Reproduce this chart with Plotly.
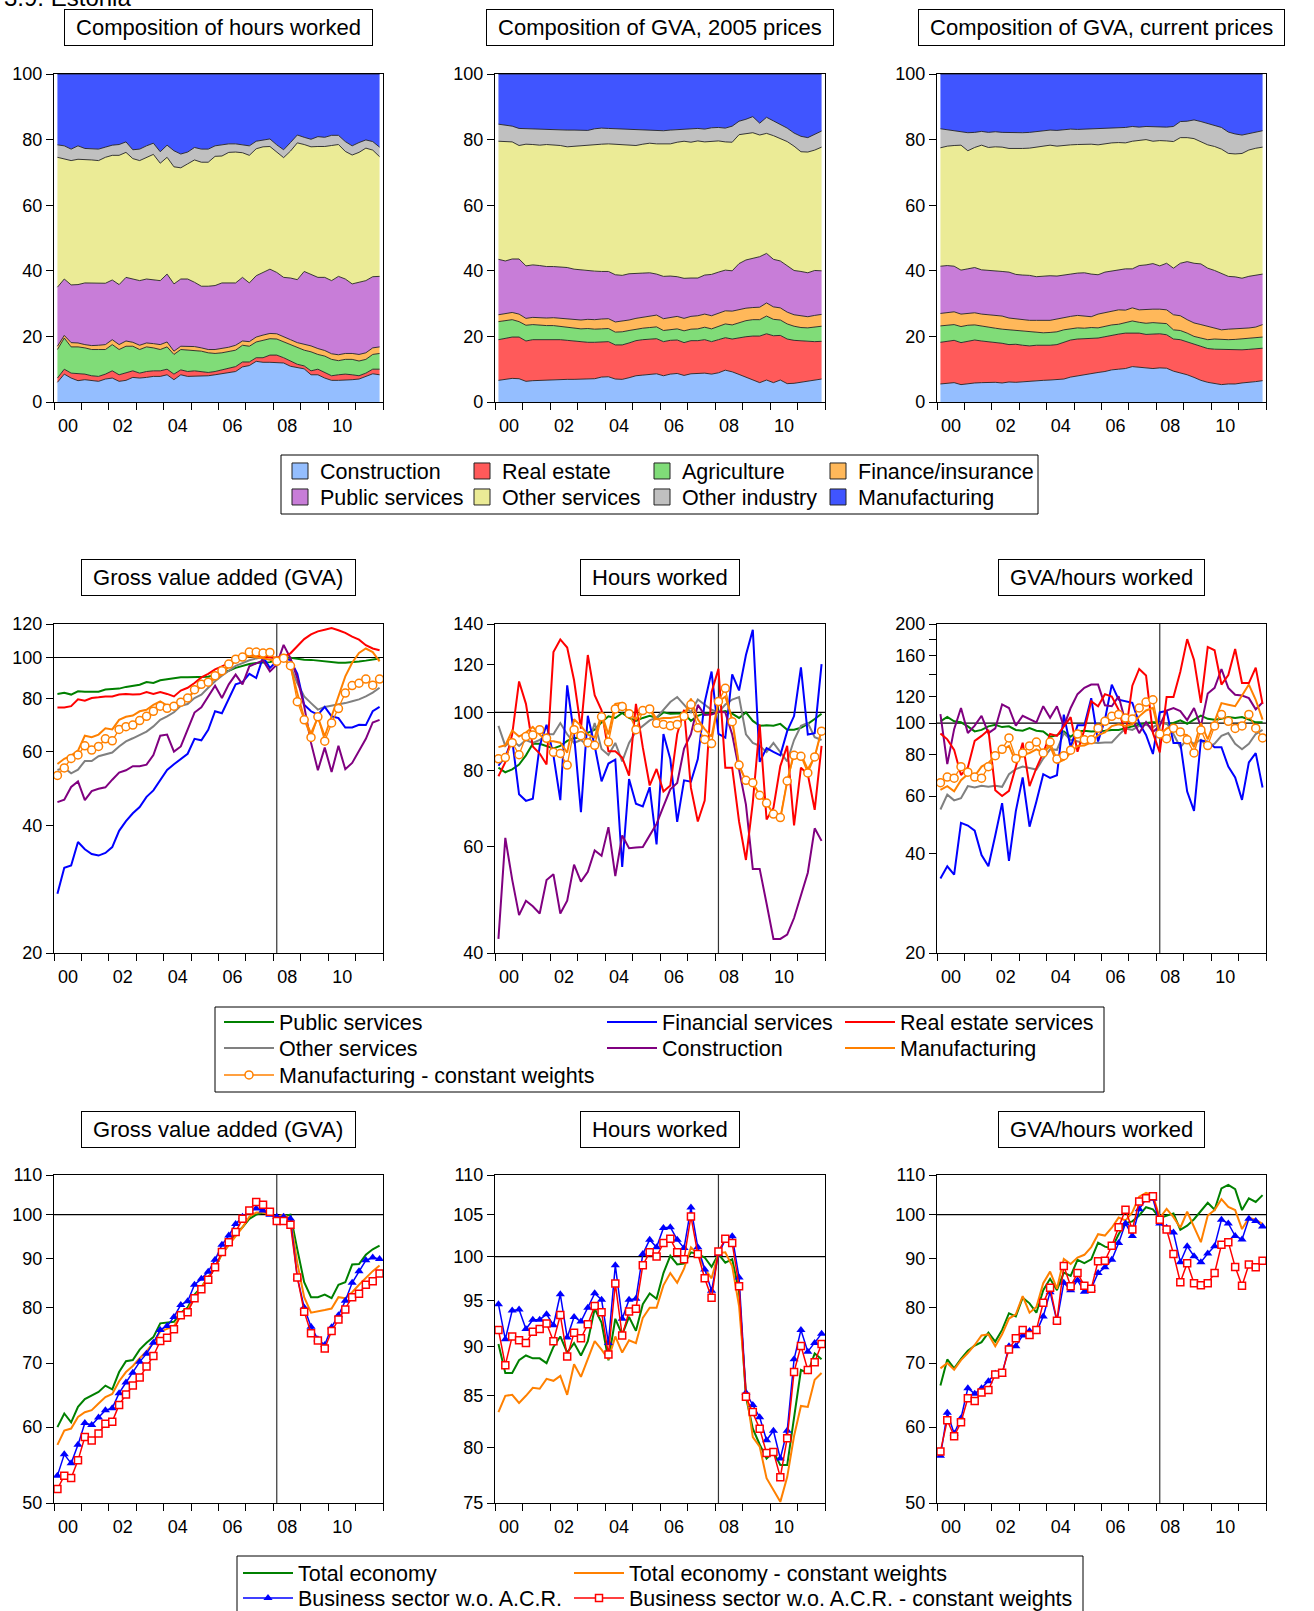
import math
import plotly.graph_objects as go

W, H = 1314, 1611
FONT = "Liberation Sans, Arial, Helvetica, sans-serif"

quarters = [f"{y}Q{q}" for y in range(2000, 2012) for q in range(1, 5)]
xq = [int(s[:4]) + (int(s[-1]) - 0.5) / 4 for s in quarters]

# ---------------- Row 1: composition shares (%) ----------------
sectors = ["Construction", "Real estate", "Agriculture", "Finance/insurance",
           "Public services", "Other services", "Other industry", "Manufacturing"]
sector_colors = ["#94BEFF", "#FF5A5A", "#80DC78", "#FFB85A",
                 "#C87DD8", "#EBEB96", "#C0C0C0", "#4055FF"]

# Composition of hours worked
constr_h = [6.0,8.5,7.3,6.5,6.8,6.6,6.3,7.0,7.3,6.3,6.6,7.5,7.3,7.5,7.8,7.8,8.3,6.8,8.3,7.8,7.8,7.8,8.0,8.3,8.6,9.0,9.3,10.7,11.1,12.4,12.1,12.1,12.1,11.9,10.9,10.4,10.1,8.3,8.3,7.3,6.6,6.6,6.6,6.8,7.0,7.8,8.6,8.3]
realest_h = [1.3,1.5,1.5,2.2,1.7,1.4,1.5,1.5,2.2,2.0,2.2,2.0,1.5,1.8,1.7,1.7,1.7,1.7,1.5,1.5,1.7,1.5,1.0,1.0,1.2,1.3,1.5,1.5,1.1,1.1,1.4,2.2,2.2,1.6,1.6,1.1,0.9,1.2,1.7,1.7,1.4,1.7,1.9,1.5,1.0,1.0,1.4,1.7]
agri_h = [8.7,9.5,8.0,8.1,8.0,8.0,8.2,7.5,8.0,7.7,8.2,7.5,7.2,7.5,7.0,6.5,6.8,6.0,6.2,6.5,6.3,6.2,6.0,5.5,5.2,5.0,5.0,5.1,4.8,4.8,5.3,5.0,4.9,4.8,5.0,5.0,4.8,5.8,4.5,5.0,5.0,4.3,4.5,4.7,4.5,4.2,4.5,4.8]
fin_h = [1.0,0.8,1.3,1.2,1.0,1.2,1.3,1.5,1.5,1.5,1.6,1.2,1.3,1.2,1.3,1.5,1.5,1.0,1.0,1.2,1.1,1.0,1.0,1.2,1.3,1.4,1.5,1.3,1.4,1.5,1.6,1.6,1.6,1.5,1.5,1.6,1.8,1.8,1.8,1.7,1.7,1.8,1.8,1.8,2.0,2.0,2.0,2.0]
pub_h = [18.0,17.2,17.6,17.8,18.8,19.1,19.0,18.7,18.2,18.3,19.4,19.3,19.7,19.5,19.5,19.5,20.7,20.5,20.5,20.5,19.6,18.8,19.3,19.5,20.0,19.6,19.0,19.4,17.9,18.7,19.1,19.6,18.7,18.2,18.8,19.2,22.2,21.7,21.7,22.3,22.3,23.9,22.7,21.2,22.0,22.0,21.7,21.5]
othsvc_h = [39.6,36.6,37.9,38.2,37.7,37.5,37.3,38.4,38.0,39.4,38.1,36.7,36.6,37.1,38.2,35.8,35.6,35.7,33.9,35.1,37.3,37.8,37.8,39.4,38.7,39.8,39.9,38.0,38.9,38.7,38.3,37.4,36.6,36.5,38.7,41.7,38.7,39.0,39.9,39.9,41.2,40.2,38.9,39.3,39.6,40.4,38.6,36.5]
othind_h = [3.8,4.0,3.5,4.1,3.3,3.5,3.5,3.1,3.1,3.3,3.2,2.7,3.5,3.5,3.4,3.5,3.7,4.9,4.2,3.6,3.8,4.0,4.0,3.2,3.4,2.6,2.5,2.3,2.9,2.3,2.1,2.3,2.3,2.4,2.6,2.4,2.2,2.3,3.0,2.8,3.1,2.8,3.0,2.8,3.0,2.5,2.6,2.9]
manuf_h = [21.6,21.9,22.9,21.9,22.7,22.7,22.9,22.3,21.7,21.5,20.7,23.1,22.9,21.9,21.1,23.7,21.7,23.4,24.4,23.8,22.4,22.9,22.9,21.9,21.6,21.3,21.3,21.7,21.9,20.5,20.1,19.8,21.6,23.1,20.9,18.6,19.3,19.9,19.1,19.3,18.7,18.7,20.6,21.9,20.9,20.1,20.6,22.3]

# Composition of GVA, 2005 prices
constr_r = [6.6,6.8,7.2,7.1,6.3,6.5,6.6,6.6,6.9,6.9,6.9,6.9,6.9,6.9,7.1,7.6,7.7,7.0,6.9,7.4,8.0,8.2,8.5,8.6,8.0,8.5,8.7,8.1,8.6,8.7,8.8,8.5,8.9,9.7,9.2,8.4,7.5,6.7,5.9,6.7,5.9,6.7,5.6,5.7,6.0,6.3,6.7,7.0]
realest_r = [12.4,12.7,12.6,12.7,12.3,12.5,12.4,12.4,12.2,12.1,11.9,11.7,11.3,11.3,11.1,10.8,10.7,10.4,10.5,10.6,10.7,10.8,10.7,10.7,10.4,10.3,10.2,10.0,10.1,10.0,10.2,9.9,10.1,9.9,10.0,11.2,12.4,13.4,14.2,14.1,14.3,13.6,13.6,13.1,12.7,12.1,11.7,11.5]
agri_r = [5.5,5.4,5.3,4.7,4.8,4.6,4.4,4.3,4.2,4.1,4.0,4.0,4.1,4.2,4.0,3.9,4.0,3.9,4.0,3.8,3.5,3.5,3.5,3.6,3.4,3.3,3.4,3.6,3.5,3.6,3.8,3.9,4.0,4.2,4.3,4.6,4.9,5.0,5.0,5.4,5.0,4.7,4.6,4.3,4.0,4.2,4.5,4.6]
fin_r = [2.1,2.0,2.2,2.3,2.1,2.2,2.2,2.3,2.4,2.4,2.5,2.5,2.7,2.8,2.9,3.0,3.0,3.1,3.2,3.2,3.3,3.4,3.5,3.6,3.6,3.7,3.8,3.8,3.9,4.0,4.0,4.0,4.0,4.0,4.2,4.0,3.8,3.7,3.8,4.0,3.8,3.7,3.6,3.5,3.5,3.4,3.5,3.6]
pub_r = [16.9,16.1,16.3,16.8,16.0,16.0,16.0,15.7,15.6,15.7,15.7,15.4,15.3,14.7,14.8,14.5,14.4,14.4,14.0,14.1,13.6,13.4,13.2,12.5,12.9,12.6,12.1,12.2,11.7,11.5,11.9,12.6,12.6,12.4,12.3,14.0,14.7,15.1,15.4,15.1,14.5,14.3,14.1,13.5,13.6,13.4,13.7,13.3]
othsvc_r = [36.0,36.5,35.7,34.6,37.1,36.7,36.7,37.2,37.1,37.0,36.8,37.5,37.7,38.3,38.7,38.8,38.9,39.8,39.8,39.2,39.1,39.3,39.5,39.7,40.3,40.3,41.0,41.8,41.4,41.8,40.6,40.6,40.0,39.1,39.2,39.3,38.5,38.2,37.1,36.6,37.7,37.2,37.9,37.9,36.5,36.8,36.7,37.7]
othind_r = [5.2,4.8,4.8,5.2,4.7,4.9,4.9,4.6,4.7,4.8,5.1,4.9,4.8,4.6,4.7,4.9,4.7,4.7,4.9,4.9,4.9,4.4,4.0,4.1,4.1,4.2,3.8,3.6,4.1,3.8,3.9,4.1,4.1,4.2,4.9,4.1,4.4,4.9,3.6,4.9,4.5,4.4,4.1,4.0,4.7,4.4,4.7,4.9]
manuf_r = [15.3,15.7,15.9,16.6,16.7,16.6,16.8,16.9,16.9,17.0,17.1,17.1,17.2,17.2,16.7,16.5,16.6,16.7,16.7,16.8,16.9,17.0,17.1,17.2,17.3,17.1,17.0,16.9,16.7,16.6,16.8,16.4,16.3,16.5,15.9,14.4,13.8,13.0,15.0,13.2,14.3,15.4,16.5,18.0,19.0,19.4,18.5,17.4]

# Composition of GVA, current prices
constr_c = [5.5,5.6,5.9,5.3,5.6,5.8,5.9,6.0,6.0,5.8,6.1,6.0,6.2,6.3,6.5,6.6,6.7,6.8,7.0,7.6,8.0,8.4,8.8,9.0,9.3,9.8,10.0,10.2,10.8,10.6,10.5,10.2,10.4,10.3,9.4,8.9,8.3,7.5,6.6,6.0,5.7,5.3,5.5,5.5,5.8,5.9,6.2,6.5]
realest_c = [12.7,12.9,12.9,12.8,13.0,13.1,12.7,12.4,12.0,12.1,11.4,11.6,11.1,10.8,10.8,10.6,10.6,10.7,11.2,11.3,11.2,10.9,10.8,10.5,10.6,10.6,10.7,10.8,10.3,10.4,10.1,10.6,10.4,10.2,9.8,10.1,10.0,10.0,10.2,10.3,10.4,10.7,10.5,10.4,10.1,10.1,10.0,9.9]
agri_c = [5.0,5.0,4.8,4.9,4.8,4.6,4.5,4.4,4.5,4.3,4.5,4.2,4.2,4.2,3.9,3.9,3.9,3.9,3.8,3.5,3.4,3.2,3.1,3.1,3.2,3.1,3.0,3.2,3.6,3.3,3.4,3.4,3.3,3.4,2.8,2.8,2.7,2.5,2.7,2.7,3.1,3.0,3.0,3.2,3.3,3.3,3.4,3.4]
fin_c = [3.8,3.8,3.9,3.8,3.6,3.7,3.7,3.8,4.0,4.0,3.6,3.5,3.6,3.6,3.7,3.8,3.7,3.9,3.8,3.7,3.8,3.6,3.3,4.2,4.2,4.1,4.4,3.8,4.0,3.8,4.3,4.1,4.2,4.2,4.6,4.5,4.1,4.1,4.1,4.0,3.3,3.0,3.2,3.2,3.2,3.2,3.2,3.8]
pub_c = [14.4,14.3,13.9,13.4,13.6,13.8,13.5,13.6,13.5,13.6,14.0,13.6,13.6,13.7,13.3,13.5,13.6,13.1,13.0,12.9,12.9,13.3,13.0,12.0,12.3,12.3,12.0,12.6,11.9,13.5,13.5,13.9,13.2,14.2,14.2,16.0,17.7,18.2,18.5,17.8,17.6,17.3,16.1,15.9,15.3,15.7,15.8,15.4]
othsvc_c = [36.1,36.4,36.8,38.1,36.0,36.6,38.0,37.4,37.8,37.9,37.7,38.3,38.6,38.8,39.5,39.6,39.8,39.6,39.5,39.4,39.2,39.2,39.6,39.6,39.2,39.1,39.0,38.4,38.9,38.2,38.2,37.3,38.2,37.3,38.6,38.3,37.8,38.0,37.3,37.6,37.8,37.8,37.5,37.5,38.0,38.4,38.6,38.7]
othind_c = [5.8,5.0,4.5,4.3,5.5,4.6,4.2,4.6,4.6,4.5,4.8,5.0,4.8,4.8,4.7,4.6,4.6,4.8,4.8,4.8,4.6,4.6,4.7,4.8,4.5,4.5,4.5,4.7,4.5,4.0,4.0,4.4,4.0,4.2,4.6,4.9,5.0,5.7,6.1,6.5,6.6,6.6,6.5,6.1,5.6,5.0,4.8,5.0]
manuf_c = [16.7,17.0,17.3,17.4,17.9,17.8,17.5,17.8,17.6,17.8,17.9,17.8,17.9,17.8,17.6,17.4,17.1,17.2,16.9,16.8,16.9,16.8,16.7,16.8,16.7,16.5,16.4,16.3,16.0,16.2,16.0,16.1,16.3,16.2,16.0,14.5,14.4,14.0,14.5,15.1,15.5,16.3,17.7,18.3,18.6,18.1,17.8,17.3]

# ---------------- Row 2: sector indices (2008Q1 = 100) ----------------
sector_lines = ["Public services", "Other services", "Financial services",
                "Construction", "Real estate services", "Manufacturing",
                "Manufacturing - constant weights"]
sector_line_colors = ["#008000", "#808080", "#0000FF", "#800080", "#FF0000", "#FF8000", "#FF8000"]

pub_gva = [82.0,82.5,81.7,83.2,83.0,83.0,83.0,84.0,84.3,84.4,85.2,85.8,86.2,87.5,87.0,88.3,88.8,89.2,89.8,89.8,89.8,89.8,90.0,91.0,92.0,93.0,94.5,95.5,96.5,97.0,97.2,97.5,98.5,100.0,99.8,99.2,98.8,98.7,98.3,98.0,97.3,97.2,97.2,97.3,97.8,98.3,99.0,99.5]
oth_gva = [54.2,54.8,53.2,54.3,56.9,56.9,58.4,59.0,59.6,61.6,63.3,64.4,65.5,66.8,68.7,71.2,72.6,74.2,76.9,77.6,80.2,81.7,84.8,87.9,90.5,93.0,95.5,97.0,98.5,99.5,100.2,100.2,99.0,99.6,95.3,87.0,80.9,78.0,75.3,76.4,76.9,77.2,78.0,78.8,79.6,80.9,82.6,84.8]
fin_gva = [27.6,31.8,32.2,36.6,35.2,34.3,34.0,34.5,35.6,38.9,41.0,42.8,44.3,46.8,48.5,51.4,54.2,55.9,57.6,59.2,64.2,63.7,67.4,74.6,73.8,80.2,86.4,87.4,91.5,89.4,100.2,94.5,98.0,99.6,98.6,91.5,77.3,74.6,73.2,76.4,72.6,71.9,68.3,68.3,69.3,69.2,74.6,76.4]
con_gva = [45.5,46.1,49.4,50.9,46.0,48.3,48.9,49.3,51.4,53.4,54.1,55.3,55.3,55.8,58.8,65.3,65.7,59.9,61.6,67.6,74.1,76.2,80.9,85.7,80.2,86.4,91.1,86.4,95.3,97.0,98.4,92.7,96.2,107.1,99.6,89.4,76.7,62.8,54.1,61.2,53.6,61.8,54.4,56.3,59.9,64.2,70.2,71.2]
re_gva = [76.2,76.2,76.7,79.6,79.0,80.2,80.5,80.9,80.9,81.7,82.0,81.7,81.8,82.8,82.0,82.8,82.0,80.9,83.5,84.8,87.0,89.7,91.5,93.7,95.3,97.0,98.8,100.5,100.9,100.5,100.2,100.0,100.0,100.5,102.3,106.6,110.5,113.4,115.3,116.3,117.4,116.0,114.3,112.0,110.2,106.9,105.0,104.0]
man_gva = [56.0,57.6,58.6,60.2,65.3,64.8,65.7,68.0,67.6,71.2,72.4,72.9,74.6,75.2,77.3,78.7,76.9,77.6,78.6,80.2,83.2,85.3,87.0,89.0,91.1,95.3,97.9,99.6,100.6,100.2,99.6,98.8,97.9,99.6,95.3,82.3,71.9,66.1,72.2,65.1,72.6,80.9,90.2,97.2,102.5,105.0,103.0,97.9]
mancw_gva = [52.6,54.8,57.7,58.8,61.8,60.4,61.6,64.2,63.5,67.6,68.6,69.2,70.9,72.6,74.6,76.7,75.8,76.7,78.4,80.2,83.9,86.4,87.4,90.5,93.0,96.5,99.1,100.2,103.0,103.0,102.4,102.8,97.9,99.6,95.6,78.6,71.2,64.7,72.4,63.4,70.0,75.7,82.4,85.8,86.9,88.9,86.0,88.9]

pub_hrs = [81.0,79.6,80.5,82.0,84.9,88.7,88.7,88.0,87.2,88.0,89.7,90.7,90.7,92.5,93.6,96.3,98.5,97.9,99.8,97.9,96.8,97.9,98.7,97.9,100.0,99.5,99.7,99.7,96.8,98.7,99.7,99.5,100.0,100.5,99.5,97.9,100.0,96.8,95.0,95.2,95.0,95.7,93.6,93.6,94.3,95.7,97.5,99.5]
oth_hrs = [95,88,90,88,90,89,90,92,92,96,92,89,90,88,96,87,85,89,83,89,93,95,97,98,101,104,106,103,100,105,103,101,100,103,105,106,92,89,88,86,89,86,83,90,95,96,91,90]
fin_hrs = [81.6,84.5,90.0,73.2,71.4,72.0,88.0,95.4,84.9,71.6,110.8,91.9,68.4,98.7,88.0,76.9,82.3,83.5,55.5,77.6,70.6,69.9,75.2,60.5,92.1,83.7,65.9,77.2,76.8,83.7,103.9,116.8,92.1,90.8,115.6,108.7,124.4,137.0,82.8,87.3,86.0,84.9,93.1,98.6,118.7,91.9,92.4,120.2]
con_hrs = [42.2,62.0,52.9,46.2,48.8,47.8,46.5,52.8,54.0,46.5,48.8,56.0,52.5,54.5,59.1,57.9,64.6,53.6,62.6,59.6,59.8,59.9,62.6,65.4,69.9,74.6,76.4,87.1,92.0,102.9,99.0,99.2,100.2,100.0,91.9,80.5,70.4,55.1,55.1,48.3,42.2,42.2,42.9,45.7,49.8,54.3,64.3,61.3]
re_hrs = [78.4,82.7,92.0,112.5,103.3,87.8,85.5,82.0,125.8,132.0,128.0,113.0,94.0,124.4,106.8,100.8,86.2,86.2,84.2,78.6,103.3,87.5,75.7,80.6,74.0,75.7,92.0,101.0,75.0,66.0,71.5,108.0,118.0,81.0,81.0,66.0,57.0,71.0,95.5,66.5,69.5,81.5,88.0,65.0,81.0,79.0,69.0,88.0]
man_hrs = [87.6,88.2,93.3,91.2,92.6,94.6,91.9,89.6,89.6,89.1,85.8,97.4,95.0,91.9,90.8,99.5,91.9,103.3,103.7,99.5,97.4,101.3,101.7,97.4,97.9,97.9,98.3,98.8,105.4,97.4,93.8,91.2,104.2,106.2,97.4,81.8,76.9,76.3,73.1,70.8,67.9,66.7,76.9,85.8,85.2,80.5,84.4,93.6]
mancw_hrs = [83.8,84.2,89.1,85.1,91.2,91.7,93.6,90.6,85.9,85.5,81.8,93.6,91.5,89.1,88.2,98.3,89.3,101.3,102.3,99.5,93.6,100.7,101.3,95.9,95.5,95.0,95.5,98.5,103.0,94.3,90.2,88.8,104.2,109.6,96.5,81.8,77.2,76.5,72.9,70.8,67.9,67.0,77.0,84.9,84.6,79.4,84.4,93.1]

pub_prod = [101.2,104.3,101.2,100.5,97.7,94.3,95.3,97.7,98.8,97.2,97.7,95.3,94.8,96.5,94.8,94.3,90.8,91.9,94.3,90.8,94.3,94.8,94.3,94.3,94.8,95.3,95.3,96.5,97.7,98.8,100.0,100.5,100.5,99.5,100.0,101.9,99.5,102.4,105.4,103.0,102.4,103.0,104.3,103.6,104.3,102.4,100.5,100.5]
oth_prod = [54.6,60.6,58.2,59.1,64.3,63.7,64.5,64.0,64.5,64.0,69.9,72.4,73.7,73.0,72.2,78.0,83.2,82.9,93.2,88.9,88.0,87.0,87.3,87.0,87.3,87.3,91.9,96.3,95.3,98.0,98.8,97.2,100.0,100.0,92.6,84.4,89.2,86.5,89.0,84.4,86.5,91.5,93.2,86.5,83.2,86.5,92.6,95.3]
fin_prod = [33.7,36.7,34.6,49.7,48.8,47.1,39.7,36.7,45.5,57.1,38.1,54.0,68.3,48.4,57.7,69.9,68.1,69.4,106.0,84.4,98.4,98.4,119.0,87.9,102.4,130.9,117.7,116.5,115.2,100.0,92.0,80.5,107.7,108.9,87.0,87.0,61.9,54.1,88.5,87.8,84.4,84.4,73.7,68.3,58.4,75.9,81.0,63.7]
con_prod = [106.4,75.0,95.8,111.1,93.3,98.2,105.2,93.2,96.3,113.9,111.1,98.2,105.2,102.8,100.5,112.5,103.8,112.5,97.7,111.1,122.4,127.9,130.9,130.9,113.2,112.5,120.6,100.7,102.8,93.2,100.7,94.0,98.2,109.2,111.1,108.7,102.1,111.1,97.7,123.0,127.9,146.0,127.9,121.9,121.2,119.0,110.1,115.4]
re_prod = [93.0,89.2,82.9,69.5,73.3,88.3,91.4,95.3,62.5,60.0,62.2,73.7,87.1,64.3,73.0,81.1,92.6,91.4,97.7,104.2,81.8,95.3,116.5,112.5,122.4,120.3,109.7,92.6,129.9,146.0,139.4,93.3,81.4,120.0,120.0,143.1,179.9,155.5,115.1,170.3,166.4,130.9,140.0,167.9,132.3,132.3,147.4,114.4]
man_prod = [62.6,64.3,62.0,67.0,69.9,69.0,73.7,75.7,79.6,82.7,85.2,76.2,80.0,81.1,83.2,81.4,85.2,75.7,77.3,81.1,85.2,85.4,87.3,91.9,93.7,97.9,99.1,98.0,99.1,104.8,109.2,111.2,91.9,96.3,97.5,92.9,91.9,84.4,100.0,89.2,101.2,115.0,113.7,112.5,121.2,130.9,117.7,102.4]
mancw_prod = [65.9,68.5,68.0,73.7,70.9,68.5,68.0,73.7,79.6,83.2,90.1,78.0,81.1,85.2,87.5,81.1,87.5,77.7,79.6,82.7,92.6,88.9,88.9,96.5,101.2,104.8,106.2,103.5,102.8,111.1,115.8,117.7,92.6,89.6,96.5,94.0,88.9,81.1,95.3,85.4,98.0,106.2,101.2,96.3,98.0,106.2,96.5,90.1]

# ---------------- Row 3: totals (2008Q1 = 100) ----------------
total_names = ["Total economy", "Total economy - constant weights",
               "Business sector w.o. A.C.R.", "Business sector w.o. A.C.R. - constant weights"]

tot_gva = [60.0,62.0,60.7,63.0,64.2,64.8,65.3,66.3,65.7,68.5,70.3,70.5,72.3,73.5,74.5,77.0,77.2,77.3,79.0,80.0,82.5,84.0,86.0,88.0,91.0,93.0,95.5,97.0,99.0,100.0,100.5,100.0,99.5,99.7,100.0,92.0,85.0,82.0,82.0,82.5,81.8,84.5,85.0,88.7,88.8,90.8,92.0,92.8]
totcw_gva = [57.5,59.5,59.8,61.5,62.2,62.5,63.5,64.5,65.0,67.0,68.5,69.5,70.8,72.0,73.5,75.5,76.0,76.5,78.5,79.5,82.0,84.0,86.0,88.0,91.0,93.0,95.0,97.0,99.5,100.5,100.5,100.0,99.5,100.0,99.0,89.0,82.0,79.0,79.2,79.5,79.8,82.0,81.8,83.0,84.5,86.0,87.3,88.5]
bus_gva = [53.4,56.2,55.0,57.5,60.6,60.3,61.4,62.5,62.8,65.1,66.8,68.4,70.2,71.6,73.5,75.8,76.5,78.2,80.5,81.2,84.5,85.7,87.2,89.7,93.0,95.1,97.8,99.5,100.8,101.5,101.0,100.0,99.5,99.5,99.0,86.0,80.0,76.4,74.1,73.1,76.3,78.5,81.3,84.9,87.3,89.6,90.2,89.9]
buscw_gva = [51.7,53.4,53.1,55.4,58.6,58.1,59.1,60.5,60.8,63.3,64.9,66.3,67.6,69.4,71.2,73.8,74.4,75.9,78.5,79.1,81.8,83.6,85.5,88.1,91.4,93.6,95.9,99.0,101.0,103.1,102.4,100.7,98.5,98.5,97.6,86.0,79.2,75.2,73.9,72.5,75.6,77.7,79.6,82.0,82.7,84.5,85.2,86.8]

tot_hrs = [90.3,87.3,87.3,88.6,89.1,88.8,88.8,88.3,90.0,91.1,89.4,90.4,89.1,90.6,94.1,92.6,88.6,93.0,91.3,93.2,91.7,94.6,95.8,95.2,98.1,100.1,99.1,99.2,100.5,100.3,99.9,98.8,100.3,99.3,99.7,96.0,84.9,81.8,80.3,79.0,79.6,78.4,78.4,83.0,87.6,87.3,89.3,88.7]
totcw_hrs = [83.4,85.0,85.1,84.3,85.0,85.8,85.7,86.7,86.5,87.0,85.1,88.2,86.9,88.7,90.6,89.7,88.7,91.1,89.4,90.7,90.4,93.1,94.2,94.2,96.7,98.1,97.0,98.6,101.1,100.3,98.6,97.5,100.4,100.5,98.9,94.4,85.6,81.0,80.1,77.2,76.1,75.1,77.3,81.1,84.0,83.9,86.6,87.3]
bus_hrs = [94.6,90.8,93.9,94.0,91.9,92.9,92.9,93.5,92.3,95.7,91.0,93.2,92.7,94.2,95.8,95.1,90.4,99.0,93.0,95.1,95.2,100.3,102.0,101.1,103.4,103.5,102.0,101.0,105.9,101.1,98.5,96.1,100.3,102.0,102.4,97.6,85.3,84.1,82.9,80.7,81.6,79.0,81.6,88.7,91.8,89.5,90.4,91.4]
buscw_hrs = [91.8,88.1,91.1,90.7,90.4,91.6,91.9,92.5,90.6,93.4,89.0,91.5,90.9,92.4,94.4,93.7,89.2,96.9,91.2,93.8,94.1,99.0,100.5,100.0,101.6,102.1,100.5,99.7,104.8,100.3,97.5,95.3,100.6,102.1,101.6,96.6,84.9,83.4,81.8,79.5,79.6,77.3,80.9,87.4,90.1,87.6,88.4,90.3]

tot_prod = [66.3,70.6,69.1,70.7,72.1,73.0,73.6,75.3,73.7,75.8,78.9,78.3,81.9,80.8,79.0,83.4,85.7,83.4,87.0,86.3,89.7,89.0,89.8,93.5,92.6,92.2,95.4,98.0,98.4,99.8,101.8,101.3,99.2,99.8,100.3,96.4,97.4,98.9,100.8,102.9,101.2,106.5,107.4,106.3,101.1,104.0,103.1,104.8]
totcw_prod = [69.1,70.0,68.9,70.5,71.7,73.1,74.8,75.0,72.9,75.0,77.9,78.7,82.2,79.0,80.1,84.8,87.2,83.7,89.9,88.8,90.2,90.8,92.5,95.4,95.1,96.9,99.3,98.6,100.6,104.4,105.4,104.8,99.2,101.4,99.4,96.9,100.7,96.9,93.6,99.8,101.1,103.8,101.9,101.1,96.6,99.2,98.8,97.8]
bus_prod = [56.0,62.1,59.1,61.3,65.9,65.0,65.9,67.0,68.2,68.1,72.9,72.9,74.8,75.6,75.4,78.3,83.0,77.4,84.9,83.4,85.4,83.1,83.7,86.9,88.1,89.7,93.4,97.9,95.0,101.3,103.9,103.9,97.9,96.9,95.8,89.2,92.7,90.5,89.2,91.1,92.7,98.8,97.9,95.0,94.2,99.0,98.5,97.2]
buscw_prod = [56.6,61.0,58.7,60.7,64.3,63.9,65.2,65.6,68.1,68.4,72.3,74.3,75.8,74.9,75.8,80.9,83.9,77.5,88.4,84.2,86.9,84.3,83.7,89.4,89.5,92.8,97.0,101.2,96.5,103.2,104.0,104.5,98.8,96.5,91.0,85.0,89.0,84.8,84.4,84.8,86.9,93.0,93.6,88.2,84.3,88.7,88.1,89.5]

panel_titles = ["Composition of hours worked", "Composition of GVA, 2005 prices",
                "Composition of GVA, current prices",
                "Gross value added (GVA)", "Hours worked", "GVA/hours worked",
                "Gross value added (GVA)", "Hours worked", "GVA/hours worked"]

year_ticks = list(range(2000, 2013))
year_labels = [f"{y % 100:02d}" if (y % 2 == 0 and y < 2012) else "" for y in year_ticks]

# ---------------- geometry (pixels) ----------------
col_px = [(54, 383), (495, 825), (937, 1266)]
row_px = [(74, 402), (624, 953), (1175, 1503)]


def px_x(p):
    return p / W


def px_y(p):
    return 1 - p / H


fig = go.Figure()
layout = {}
shapes = []
annotations = []

axis_cfg = {
    1: ("linear", [0, 100], [0, 20, 40, 60, 80, 100], None),
    2: ("linear", [0, 100], [0, 20, 40, 60, 80, 100], None),
    3: ("linear", [0, 100], [0, 20, 40, 60, 80, 100], None),
    4: ("log", [20, 120], [20, 40, 60, 80, 100, 120], None),
    5: ("log", [40, 140], [40, 60, 80, 100, 120, 140], None),
    6: ("log", [20, 200], [20, 40, 60, 80, 100, 120, 140, 160, 180, 200],
        ["20", "40", "60", "80", "100", "120", "", "160", "", "200"]),
    7: ("log", [50, 110], [50, 60, 70, 80, 90, 100, 110], None),
    8: ("log", [75, 110], [75, 80, 85, 90, 95, 100, 105, 110], None),
    9: ("log", [50, 110], [50, 60, 70, 80, 90, 100, 110], None),
}

tickfont = dict(family=FONT, size=18, color="black")


def ids(k):
    xid = "x" if k == 1 else f"x{k}"
    yid = "y" if k == 1 else f"y{k}"
    return xid, yid, f"y{k + 9}"


NB = "\u00a0"
for r in range(3):
    for c in range(3):
        k = r * 3 + c + 1
        xid, yid, yrid = ids(k)
        typ, rng, tv, tt = axis_cfg[k]
        yr = [math.log10(rng[0]), math.log10(rng[1])] if typ == "log" else rng
        xkey = "xaxis" if k == 1 else f"xaxis{k}"
        ykey = "yaxis" if k == 1 else f"yaxis{k}"
        layout[xkey] = dict(
            domain=[px_x(col_px[c][0]), px_x(col_px[c][1])], anchor=yid,
            range=[2000, 2012], showgrid=False, zeroline=False,
            showline=True, linecolor="black", linewidth=1.2, mirror=True,
            tickmode="array", tickvals=year_ticks, ticktext=year_labels,
            ticks="outside", ticklen=7, tickwidth=1, tickcolor="black",
            ticklabelshift=14, tickfont=tickfont, fixedrange=True)
        common_y = dict(type=typ, range=yr, showgrid=False, zeroline=False,
                        tickmode="array", tickvals=tv,
                        ticktext=tt if tt else [str(v) for v in tv],
                        ticks="outside", ticklen=7, tickwidth=1, tickcolor="black",
                        showline=True, linecolor="black", linewidth=1.2,
                        tickfont=tickfont, fixedrange=True)
        layout[ykey] = dict(domain=[px_y(row_px[r][1]), px_y(row_px[r][0])],
                            anchor=xid, side="left", mirror=True, **common_y)
        layout[f"yaxis{k + 9}"] = dict(overlaying=yid, anchor=xid, side="right",
                                       **common_y)
        # boxed panel title
        cx = (col_px[c][0] + col_px[c][1]) / 2
        ty = [27, 577, 1129][r]
        annotations.append(dict(
            text=NB + panel_titles[k - 1] + NB, x=px_x(cx), y=px_y(ty),
            xref="paper", yref="paper",
            xanchor="center", yanchor="middle", showarrow=False,
            font=dict(family=FONT, size=22, color="black"),
            bordercolor="black", borderwidth=1, borderpad=5, bgcolor="white"))
        if r > 0:
            shapes.append(dict(type="line", xref=f"{xid} domain", yref=yid,
                               x0=0, x1=1, y0=100, y1=100,
                               line=dict(color="black", width=1.2), layer="below"))
            shapes.append(dict(type="line", xref=xid, yref=f"{yid} domain",
                               x0=2008.125, x1=2008.125, y0=0, y1=1,
                               line=dict(color="#333333", width=1.2), layer="below"))

# ---------- legend cells: one small legend per entry ----------
legfont = dict(family=FONT, size=21.5, color="black")
legend_cells = []  # (legend id, x px, y-centre px, item width)


def new_legend(xpx, ycpx, iw):
    n = len(legend_cells) + 1
    lid = "legend" if n == 1 else f"legend{n}"
    legend_cells.append((lid, xpx, ycpx, iw))
    return lid


# ---------- Row 1: stacked areas ----------
comp_sets = [
    [constr_h, realest_h, agri_h, fin_h, pub_h, othsvc_h, othind_h, manuf_h],
    [constr_r, realest_r, agri_r, fin_r, pub_r, othsvc_r, othind_r, manuf_r],
    [constr_c, realest_c, agri_c, fin_c, pub_c, othsvc_c, othind_c, manuf_c],
]
for p, series in enumerate(comp_sets):
    k = p + 1
    xid, yid, _ = ids(k)
    for i, (name, vals) in enumerate(zip(sectors, series)):
        tr = dict(x=xq, y=vals, name=name, mode="lines",
                  line=dict(color="#222222", width=0.9),
                  fillcolor=sector_colors[i], stackgroup=f"s{k}",
                  xaxis=xid, yaxis=yid, showlegend=False, hoverinfo="skip")
        if i == 0:
            tr["groupnorm"] = "percent"
        fig.add_trace(go.Scatter(**tr))

# legend swatches for the composition panels (4 columns x 2 rows)
leg1_x = [280, 462, 642, 818]
leg1_y = [471, 497]
for i, name in enumerate(sectors):
    row, col = divmod(i, 4)
    lid = new_legend(leg1_x[col], leg1_y[row], 30)
    fig.add_trace(go.Scatter(
        x=[None], y=[None], mode="markers", name=name,
        marker=dict(symbol="square", size=16, color=sector_colors[i],
                    line=dict(color="#222222", width=1)),
        xaxis="x", yaxis="y", legend=lid, showlegend=True, hoverinfo="skip"))

# ---------- Row 2: sector lines ----------
row2_sets = [
    [pub_gva, oth_gva, fin_gva, con_gva, re_gva, man_gva, mancw_gva],
    [pub_hrs, oth_hrs, fin_hrs, con_hrs, re_hrs, man_hrs, mancw_hrs],
    [pub_prod, oth_prod, fin_prod, con_prod, re_prod, man_prod, mancw_prod],
]
leg2_pos = {"Public services": (219, 1022), "Other services": (219, 1048),
            "Manufacturing - constant weights": (219, 1075),
            "Financial services": (602, 1022), "Construction": (602, 1048),
            "Real estate services": (840, 1022), "Manufacturing": (840, 1048)}
leg2_ids = {name: new_legend(leg2_pos[name][0], leg2_pos[name][1], 50) for name in sector_lines}
for p, series in enumerate(row2_sets):
    k = p + 4
    xid, yid, _ = ids(k)
    for i, (name, vals) in enumerate(zip(sector_lines, series)):
        tr = dict(x=xq, y=vals, name=name, xaxis=xid, yaxis=yid,
                  legend=leg2_ids[name], showlegend=(p == 0), hoverinfo="skip")
        if name.endswith("constant weights"):
            tr.update(mode="lines+markers",
                      line=dict(color=sector_line_colors[i], width=1.3),
                      marker=dict(symbol="circle", size=8, color="white",
                                  line=dict(color=sector_line_colors[i], width=1.5)))
        else:
            tr.update(mode="lines", line=dict(color=sector_line_colors[i], width=2))
        fig.add_trace(go.Scatter(**tr))

# ---------- Row 3: totals ----------
row3_sets = [
    [tot_gva, totcw_gva, bus_gva, buscw_gva],
    [tot_hrs, totcw_hrs, bus_hrs, buscw_hrs],
    [tot_prod, totcw_prod, bus_prod, buscw_prod],
]
leg3_pos = {total_names[0]: (238, 1573), total_names[1]: (569, 1573),
            total_names[2]: (238, 1598), total_names[3]: (569, 1598)}
leg3_ids = {name: new_legend(leg3_pos[name][0], leg3_pos[name][1], 50) for name in total_names}
styles = [
    dict(mode="lines", line=dict(color="#008000", width=2)),
    dict(mode="lines", line=dict(color="#FF8000", width=2)),
    dict(mode="lines+markers", line=dict(color="#0000FF", width=1.5),
         marker=dict(symbol="triangle-up", size=8, color="#0000FF")),
    dict(mode="lines+markers", line=dict(color="#FF0000", width=1.5),
         marker=dict(symbol="square", size=7, color="white",
                     line=dict(color="#FF0000", width=1.5))),
]
for p, series in enumerate(row3_sets):
    k = p + 7
    xid, yid, _ = ids(k)
    for i, (name, vals) in enumerate(zip(total_names, series)):
        fig.add_trace(go.Scatter(x=xq, y=vals, name=name, xaxis=xid, yaxis=yid,
                                 legend=leg3_ids[name], showlegend=(p == 0),
                                 hoverinfo="skip", **styles[i]))

for lid, xpx, ycpx, iw in legend_cells:
    layout[lid] = dict(x=px_x(xpx), y=px_y(ycpx), xanchor="left", yanchor="middle",
                       orientation="v", bgcolor="rgba(0,0,0,0)", borderwidth=0,
                       font=legfont, itemwidth=iw, tracegroupgap=0,
                       traceorder="normal", itemclick=False, itemdoubleclick=False)

# legend frames
for (x0, y0, x1, y1) in [(281, 455, 1038, 514), (215, 1007, 1104, 1092), (237, 1556, 1083, 1625)]:
    shapes.append(dict(type="rect", xref="paper", yref="paper",
                       x0=px_x(x0), x1=px_x(x1), y0=px_y(y1), y1=px_y(y0),
                       line=dict(color="black", width=1), fillcolor="rgba(0,0,0,0)"))

# partially visible page header (cut by the top edge, as in the source page)
annotations.append(dict(text="3.9. Estonia", x=px_x(2), y=1, xref="paper", yref="paper",
                        xanchor="left", yanchor="bottom", yshift=-13, showarrow=False,
                        font=dict(family=FONT, size=24, color="black")))

fig.update_layout(
    width=W, height=H,
    margin=dict(l=0, r=0, t=0, b=0, pad=0, autoexpand=False),
    paper_bgcolor="white", plot_bgcolor="white",
    font=dict(family=FONT, size=18, color="black"),
    shapes=shapes, annotations=annotations, hovermode=False,
    **layout)

fig.write_html("out.html", config={"displayModeBar": False})
